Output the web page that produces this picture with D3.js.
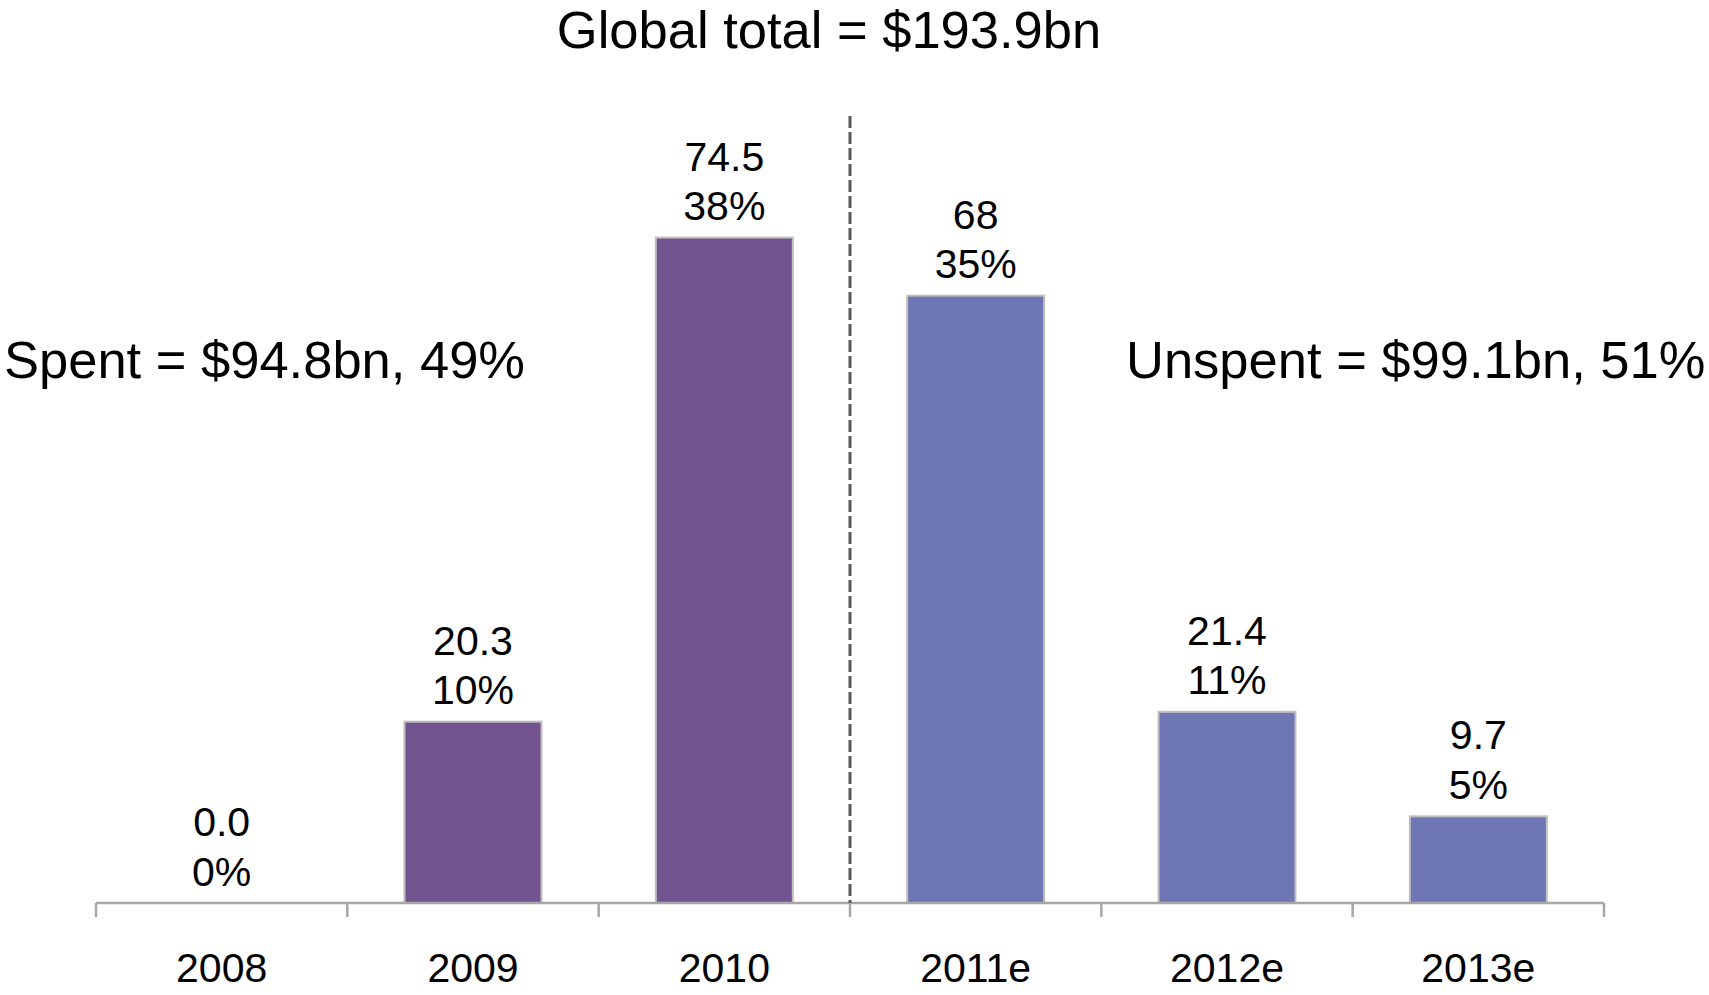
<html>
<head>
<title>Global total</title>
<style>
  body { margin: 0; background: #fff; }
  text { font-family: "Liberation Sans", Arial, sans-serif; fill: #000; }
</style>
<script src="https://d3js.org/d3.v7.min.js"></script>
</head>
<body>
<div id="chart"></div>
<script>
// data
var years = ["2008", "2009", "2010", "2011e", "2012e", "2013e"];
var values = [0.0, 20.3, 74.5, 68, 21.4, 9.7];
var valueLabels = ["0.0", "20.3", "74.5", "68", "21.4", "9.7"];
var pctLabels = ["0%", "10%", "38%", "35%", "11%", "5%"];
var spent = [true, true, true, false, false, false];

var title = "Global total = $193.9bn";
var spentText = "Spent = $94.8bn, 49%";
var unspentText = "Unspent = $99.1bn, 51%";

var width = 1709, height = 995;
var plotLeft = 96, plotRight = 1604, baseY = 903, topY = 237.6;

var svg = d3.select("#chart").append("svg")
  .attr("width", width)
  .attr("height", height);

var x = d3.scaleBand().domain(years).range([plotLeft, plotRight]).paddingInner(0.455).paddingOuter(0.2275);
var y = d3.scaleLinear().domain([0, d3.max(values)]).range([baseY, topY]);

var data = years.map(function(d, i) {
  return {year: d, value: values[i], label: valueLabels[i], pct: pctLabels[i], spent: spent[i]};
});

var gap = x.step() - x.bandwidth();

// bars
svg.selectAll("rect.bar")
  .data(data.filter(function(d) { return d.value > 0; }))
  .enter().append("rect")
  .attr("class", "bar")
  .attr("x", function(d) { return x(d.year); })
  .attr("y", function(d) { return y(d.value); })
  .attr("width", x.bandwidth())
  .attr("height", function(d) { return baseY - y(d.value); })
  .attr("fill", function(d) { return d.spent ? "#725490" : "#6f76b4"; })
  .attr("stroke", "#bfbfbf")
  .attr("stroke-width", 2);

// axis line and boundary ticks
svg.append("line")
  .attr("x1", plotLeft).attr("x2", plotRight)
  .attr("y1", baseY).attr("y2", baseY)
  .attr("stroke", "#a6a6a6").attr("stroke-width", 2.5);

var bounds = years.map(function(d) { return x(d) - gap / 2; }).concat([plotRight]);
svg.selectAll("line.tick")
  .data(bounds)
  .enter().append("line")
  .attr("class", "tick")
  .attr("x1", function(d) { return d; }).attr("x2", function(d) { return d; })
  .attr("y1", baseY).attr("y2", baseY + 14)
  .attr("stroke", "#a6a6a6").attr("stroke-width", 2.5);

// category labels
svg.selectAll("text.year")
  .data(years)
  .enter().append("text")
  .attr("class", "year")
  .attr("x", function(d) { return x(d) + x.bandwidth() / 2; })
  .attr("y", baseY + 79)
  .attr("text-anchor", "middle")
  .style("font-size", "41px")
  .text(function(d) { return d; });

// value labels
svg.selectAll("text.val")
  .data(data)
  .enter().append("text")
  .attr("class", "val")
  .attr("x", function(d) { return x(d.year) + x.bandwidth() / 2; })
  .attr("y", function(d) { return y(d.value) - 67; })
  .attr("text-anchor", "middle")
  .style("font-size", "41px")
  .text(function(d) { return d.label; });

svg.selectAll("text.pct")
  .data(data)
  .enter().append("text")
  .attr("class", "pct")
  .attr("x", function(d) { return x(d.year) + x.bandwidth() / 2; })
  .attr("y", function(d) { return y(d.value) - 17.5; })
  .attr("text-anchor", "middle")
  .style("font-size", "41px")
  .text(function(d) { return d.pct; });

// dashed divider between actual and estimate
var divX = x("2011e") - gap / 2;
svg.append("line")
  .attr("x1", divX).attr("x2", divX)
  .attr("y1", 116).attr("y2", baseY)
  .attr("stroke", "#595959")
  .attr("stroke-width", 3)
  .attr("stroke-dasharray", "12,4");

// titles
svg.append("text")
  .attr("x", 829).attr("y", 48)
  .attr("text-anchor", "middle")
  .style("font-size", "52.5px")
  .text(title);

svg.append("text")
  .attr("x", 4).attr("y", 378)
  .style("font-size", "52.5px")
  .text(spentText);

svg.append("text")
  .attr("x", 1126).attr("y", 378)
  .style("font-size", "52.5px")
  .text(unspentText);
</script>
</body>
</html>
